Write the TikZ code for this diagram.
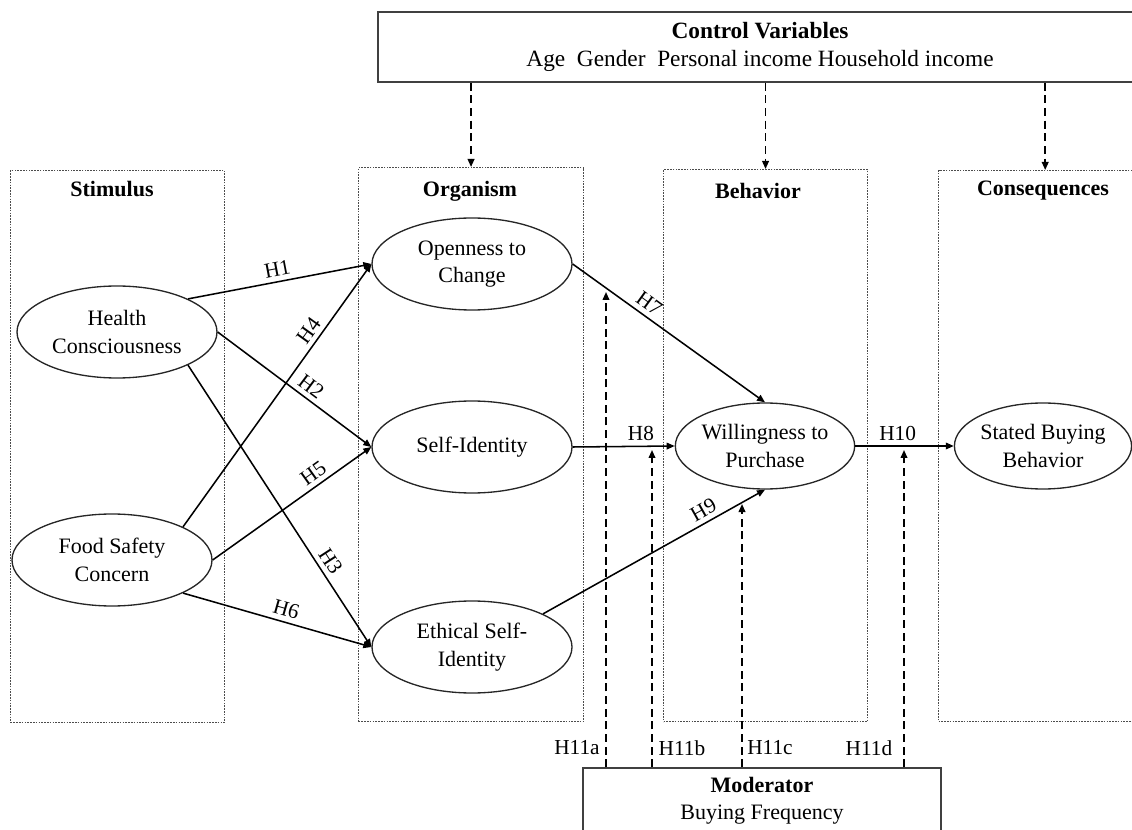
\documentclass[tikz,border=0pt]{standalone}
\usepackage{fontspec}
\setmainfont{Liberation Serif}
\usetikzlibrary{shapes.geometric,arrows.meta}
\begin{document}
\begin{tikzpicture}[x=0.75pt,y=-0.75pt,
  every node/.style={font=\fontsize{16.5}{20.5}\selectfont},
  grp/.style={draw=black!70, line width=0.8pt, dash pattern=on 1.2pt off 0.9pt, rectangle, anchor=north west, inner sep=0pt},
  grplab/.style={font=\fontsize{16.5}{20.5}\selectfont\bfseries},
  ell/.style={ellipse, draw=black!85, line width=1pt, align=center, inner sep=0pt, minimum width=150pt, minimum height=69pt},
  conn/.style={line width=1.15pt, -{Triangle[length=6pt,width=5pt]}},
  dsh/.style={line width=1.25pt, dash pattern=on 6pt off 3.5pt, -{Triangle[length=6pt,width=5pt]}},
  hl/.style={sloped, above, inner sep=3.5pt, font=\fontsize{16}{20}\selectfont},
  hlab/.style={font=\fontsize{16}{20}\selectfont},
  solidbox/.style={draw=black!75, line width=1.1pt, rectangle, inner sep=0pt, align=center}
]
\useasboundingbox (0,0) rectangle (1132,830);
\clip (0,0) rectangle (1132,830);

% group boxes
\node[grp, minimum width=160.5pt, minimum height=414pt] (stim) at (10,170) {};
\node[grp, minimum width=168.75pt, minimum height=415.5pt] (org) at (358,167) {};
\node[grp, minimum width=153pt, minimum height=414pt] (beh) at (663,169) {};
\node[grp, minimum width=160pt, minimum height=413.25pt] (cons) at (938,170) {};

\node[grplab] (stimlab) at (112,189) {Stimulus};
\node[grplab] (orglab) at (470,191) {Organism};
\node[grplab] (behlab) at (758,191) {Behavior};
\node[grplab] (conslab) at (1043,191) {Consequences};

% constructs
\node[ell] (hc) at (117,332) {Health\\Consciousness};
\node[ell] (fsc) at (112,560) {Food Safety\\Concern};
\node[ell] (op) at (472,264) {Openness to\\Change};
\node[ell] (si) at (472,447) {Self-Identity};
\node[ell] (es) at (472,647) {Ethical Self-\\Identity};
\node[ell, minimum width=130.5pt, minimum height=64.5pt] (wp) at (765,446) {Willingness to\\Purchase};
\node[ell, minimum width=129pt, minimum height=64.5pt] (sb) at (1043,446) {Stated Buying\\Behavior};

% control and moderator
\node[solidbox, minimum width=573pt, minimum height=52.5pt, font=\fontsize{17.5}{21.5}\selectfont] (ctrl) at (760,47) {\textbf{Control Variables}\\Age\ \ Gender\ \ Personal income Household income};
\node[solidbox, minimum width=268.5pt, minimum height=49.5pt] (mod) at (762,801) {\textbf{Moderator}\\Buying Frequency};

% hypotheses
\draw[conn] (hc.25) -- node[hl,pos=0.5]{H1} (op.west);
\draw[conn] (hc.east) -- node[hl,pos=0.56]{H2} (si.west);
\draw[conn] (hc.-25) -- node[hl,pos=0.72]{H3} (es.west);
\draw[conn] (fsc.25) -- node[hl,pos=0.72]{H4} (op.west);
\draw[conn] (fsc.east) -- node[hl,pos=0.68]{H5} (si.west);
\draw[conn] (fsc.-25) -- node[hl,pos=0.53]{H6} (es.west);
\draw[conn] (op.east) -- node[hl,pos=0.36]{H7} (wp.north);
\draw[conn] (si.east) -- node[hl,pos=0.67]{H8} (wp.west);
\draw[conn] (es.25) -- node[hl,pos=0.75]{H9} (wp.south);
\draw[conn] (wp.east) -- node[hl,pos=0.43]{H10} (sb.west);

% control arrows
\draw[dsh] (ctrl.south -| org.north) -- (org.north);
\draw[dsh] (ctrl.south -| beh.north) -- (beh.north);
\draw[dsh] (ctrl.south -| cons.north) -- (cons.north);

% moderator arrows
\coordinate (t11a) at (606,292);
\coordinate (t11b) at (652,450);
\coordinate (t11c) at (742,504);
\coordinate (t11d) at (904,450);
\draw[dsh] (mod.north -| t11a) -- (t11a);
\draw[dsh] (mod.north -| t11b) -- (t11b);
\draw[dsh] (mod.north -| t11c) -- (t11c);
\draw[dsh] (mod.north -| t11d) -- (t11d);
\node[hlab] (l11a) at (577,748) {H11a};
\node[hlab] (l11b) at (682,748) {H11b};
\node[hlab] (l11c) at (770,748) {H11c};
\node[hlab] (l11d) at (869,748) {H11d};
\end{tikzpicture}
\end{document}
